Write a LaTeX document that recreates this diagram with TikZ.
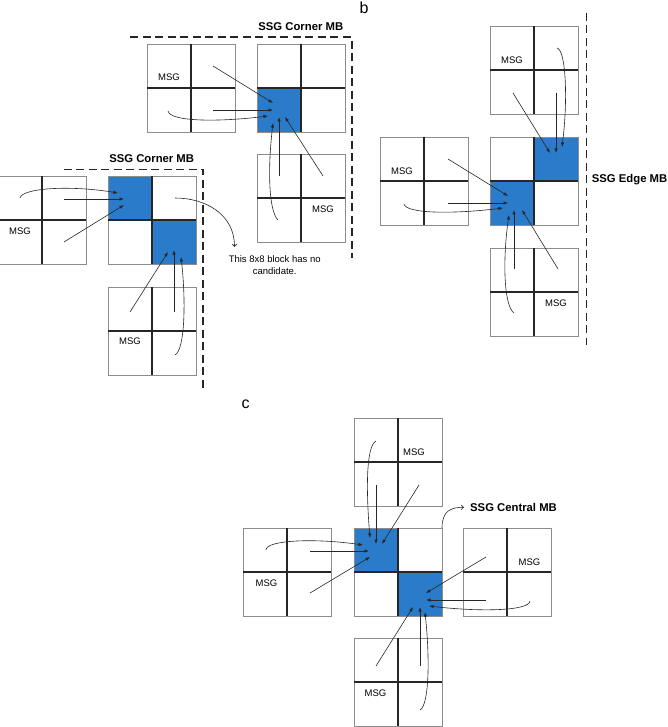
\documentclass[tikz,border=0pt]{standalone}
\usepackage{fontspec}
\setmainfont{Liberation Sans}
\usetikzlibrary{arrows.meta}
\definecolor{SsgBlue}{HTML}{2A7BC9}
\definecolor{GridGray}{HTML}{8C8C8C}
\definecolor{LineDark}{HTML}{262626}

\begin{document}
\begin{tikzpicture}[
  x=1pt, y=-1pt,
  blk/.style={draw=GridGray, line width=0.9pt, minimum size=88pt, inner sep=0pt, outer sep=0pt},
  ssg/.style={fill=SsgBlue, draw=GridGray, line width=0.9pt},
  cross/.style={draw=LineDark, line width=1.4pt},
  msg/.style={font=\fontsize{9.5}{11}\selectfont, inner sep=1pt},
  note/.style={font=\fontsize{9.5}{12}\selectfont, align=center, inner sep=1pt},
  title/.style={font=\fontsize{11.3}{13}\selectfont\bfseries, inner sep=1pt},
  panel/.style={font=\fontsize{16}{18}\selectfont, inner sep=0pt},
  mbline/.style={dash pattern=on 8pt off 4.5pt, line width=1.9pt, draw=LineDark},
  arr/.style={-{Latex[length=4.5pt,width=3.4pt]}, line width=0.6pt, draw=LineDark},
  pointer/.style={-{Straight Barb[length=2.5pt,width=4.5pt]}, line width=0.6pt, draw=LineDark}
]
\useasboundingbox (0,0) rectangle (668,727);

% blocks of 2x2 8x8 cells
\node[blk] (aTL) at (191,88) {};
\node[blk] (aTR) at (301,88) {};
\node[blk] (aBR) at (301,198) {};
\node[blk] (aL) at (42,220) {};
\node[blk] (aM) at (152,220) {};
\node[blk] (aB) at (152,331) {};
\node[blk] (bT) at (534,70) {};
\node[blk] (bM) at (534,181) {};
\node[blk] (bL) at (424,181) {};
\node[blk] (bB) at (534,292) {};
\node[blk] (cT) at (398,462) {};
\node[blk] (cM) at (398,572) {};
\node[blk] (cL) at (287,572) {};
\node[blk] (cR) at (507,572) {};
\node[blk] (cB) at (398,682) {};

% SSG cells
\filldraw[ssg] (aTR.center) rectangle (aTR.south west);
\filldraw[ssg] (aM.center) rectangle (aM.north west);
\filldraw[ssg] (aM.center) rectangle (aM.south east);
\filldraw[ssg] (bM.center) rectangle (bM.north east);
\filldraw[ssg] (bM.center) rectangle (bM.south west);
\filldraw[ssg] (cM.center) rectangle (cM.north west);
\filldraw[ssg] (cM.center) rectangle (cM.south east);

\foreach \b in {aTL,aTR,aBR,aL,aM,aB,bT,bM,bL,bB,cT,cM,cL,cR,cB}
  \draw[cross] (\b.north) -- (\b.south) (\b.west) -- (\b.east);

% MB borders
\draw[mbline] (130,37.3) -- (351.7,37.3) -- (351.7,258);
\draw[mbline] (63.5,169.5) -- (203.3,169.5) -- (203.3,390);
\draw[mbline] (586.5,12.7) -- (586.5,345);

% labels
\node[title] (aTopLbl) at (300.8,26.7) {SSG Corner MB};
\node[title] (aLowLbl) at (151.7,159) {SSG Corner MB};
\node[title, anchor=west] (bLbl) at (590.7,179.3) {SSG Edge MB};
\node[title, anchor=west] (cLbl) at (469,507.3) {SSG Central MB};
\node[panel] (bTag) at (364,8) {b};
\node[panel] (cTag) at (245.7,404) {c};
\node[note] (noteTxt) at (274.7,265) {This 8x8 block has no\\candidate.};
\coordinate (noteTip) at (234.5,247);

\node[msg] (aTLmsg) at ([shift={(-22,-11)}]aTL.center) {MSG};
\node[msg] (aBRmsg) at ([shift={(22,11)}]aBR.center) {MSG};
\node[msg] (aLmsg) at ([shift={(-22,11)}]aL.center) {MSG};
\node[msg] (aBmsg) at ([shift={(-22,10)}]aB.center) {MSG};
\node[msg] (bTmsg) at ([shift={(-22,-10)}]bT.center) {MSG};
\node[msg] (bLmsg) at ([shift={(-22,-10)}]bL.center) {MSG};
\node[msg] (bBmsg) at ([shift={(22,11)}]bB.center) {MSG};
\node[msg] (cTmsg) at ([shift={(16,-10)}]cT.center) {MSG};
\node[msg] (cLmsg) at ([shift={(-20.5,11)}]cL.center) {MSG};
\node[msg] (cRmsg) at ([shift={(22.5,-10)}]cR.center) {MSG};
\node[msg] (cBmsg) at ([shift={(-22.5,11)}]cB.center) {MSG};

% a: corner MBs
\draw[arr] ([shift={(22,-22)}]aTL.center) -- ([shift={(-28,15)}]aTR.center);
\draw[arr] ([shift={(22,22)}]aTL.center) -- ([shift={(-28,22)}]aTR.center);
\draw[arr] ([shift={(-23,23)}]aTL.center) .. controls +(2,11) and +(-48,6) .. ([shift={(-33,28)}]aTR.center);
\draw[arr] ([shift={(-23,22)}]aBR.center) .. controls +(-10,-10) and +(-5,42) .. ([shift={(-28,35)}]aTR.center);
\draw[arr] ([shift={(-22,-22)}]aBR.center) -- ([shift={(-22,29)}]aTR.center);
\draw[arr] ([shift={(22,-22)}]aBR.center) -- ([shift={(-16,29)}]aTR.center);

\draw[arr] ([shift={(-22,-22)}]aL.center) .. controls +(2,-10) and +(-48,-8) .. ([shift={(-34,-27)}]aM.center);
\draw[arr] ([shift={(22,-21)}]aL.center) -- ([shift={(-28,-21)}]aM.center);
\draw[arr] ([shift={(22,22)}]aL.center) -- ([shift={(-28,-15)}]aM.center);
\draw[arr] ([shift={(-22,-19)}]aB.center) -- ([shift={(16,32)}]aM.center);
\draw[arr] ([shift={(22,-19)}]aB.center) -- ([shift={(22,30)}]aM.center);
\draw[arr] ([shift={(23,24)}]aB.center) .. controls +(10,-5) and +(5,43) .. ([shift={(29,37)}]aM.center);
\draw[pointer] ([shift={(23,-22)}]aM.center) .. controls +(30,0) and +(0,-33) .. (noteTip);

% b: edge MB
\draw[arr] ([shift={(-21,23)}]bT.center) -- ([shift={(16,-28)}]bM.center);
\draw[arr] ([shift={(22,23)}]bT.center) -- ([shift={(22,-28)}]bM.center);
\draw[arr] ([shift={(23,-22)}]bT.center) .. controls +(9,2) and +(6,-47) .. ([shift={(28,-34)}]bM.center);
\draw[arr] ([shift={(24,-22)}]bL.center) -- ([shift={(-26,15)}]bM.center);
\draw[arr] ([shift={(24,22)}]bL.center) -- ([shift={(-26,22)}]bM.center);
\draw[arr] ([shift={(-20,23)}]bL.center) .. controls +(2,10) and +(-48,6) .. ([shift={(-31,27)}]bM.center);
\draw[arr] ([shift={(-20,21)}]bB.center) .. controls +(-11,-8) and +(-6,40) .. ([shift={(-25,34)}]bM.center);
\draw[arr] ([shift={(-20,-23)}]bB.center) -- ([shift={(-20,29)}]bM.center);
\draw[arr] ([shift={(24,-23)}]bB.center) -- ([shift={(-12,29)}]bM.center);

% c: central MB
\draw[arr] ([shift={(-22,-21)}]cT.center) .. controls +(-10,5) and +(-4,-48) .. ([shift={(-28,-34)}]cM.center);
\draw[arr] ([shift={(-22,23)}]cT.center) -- ([shift={(-22,-28)}]cM.center);
\draw[arr] ([shift={(21,23)}]cT.center) -- ([shift={(-16,-28)}]cM.center);
\draw[arr] ([shift={(-21,-22)}]cL.center) .. controls +(0,-10) and +(-48,-7) .. ([shift={(-35,-27)}]cM.center);
\draw[arr] ([shift={(23,-21)}]cL.center) -- ([shift={(-29,-21)}]cM.center);
\draw[arr] ([shift={(23,21)}]cL.center) -- ([shift={(-28,-15)}]cM.center);
\draw[arr] ([shift={(-21,-15)}]cR.center) -- ([shift={(28,21)}]cM.center);
\draw[arr] ([shift={(-21,28)}]cR.center) -- ([shift={(28,28)}]cM.center);
\draw[arr] ([shift={(23,29)}]cR.center) .. controls +(-1,10) and +(51,6) .. ([shift={(31,34)}]cM.center);
\draw[arr] ([shift={(-22,-16)}]cB.center) -- ([shift={(15,35)}]cM.center);
\draw[arr] ([shift={(22,-16)}]cB.center) -- ([shift={(22,35)}]cM.center);
\draw[arr] ([shift={(22,28)}]cB.center) .. controls +(9,-5) and +(5,48) .. ([shift={(27,40)}]cM.center);
\draw[pointer] (cM.north east) .. controls +(0,-18) and +(-12,0) .. ([xshift=-5pt]cLbl.west);
\end{tikzpicture}
\end{document}
